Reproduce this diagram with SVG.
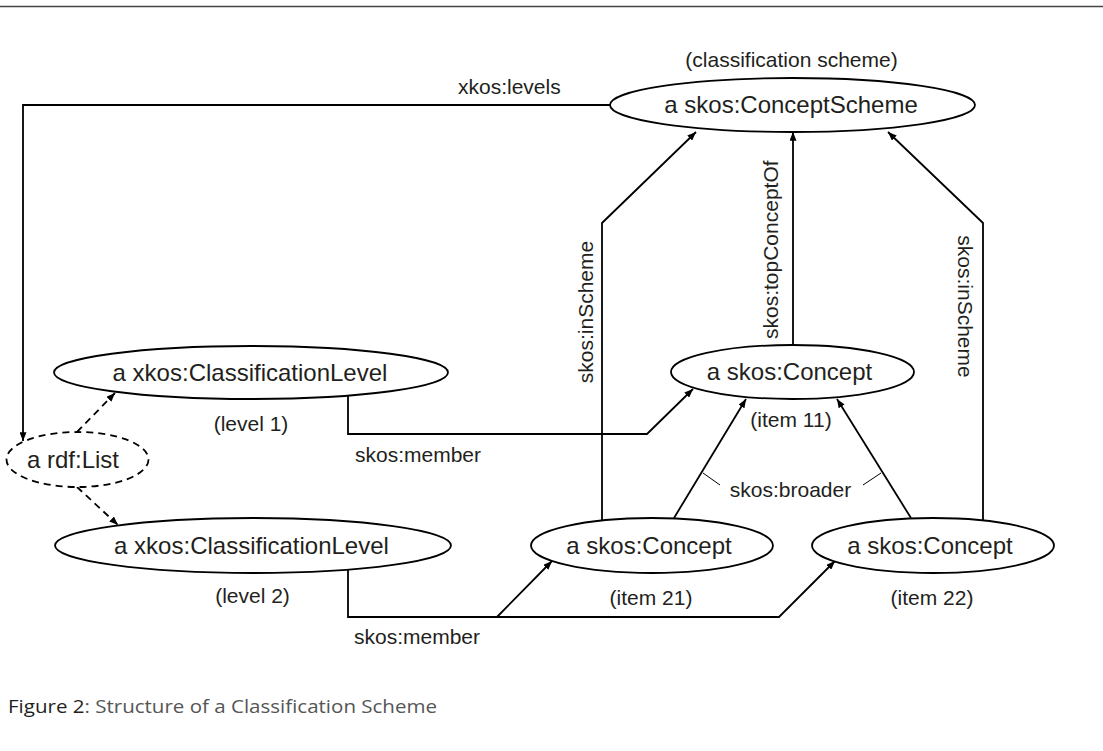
<svg xmlns="http://www.w3.org/2000/svg" width="1103" height="751" viewBox="0 0 1103 751">
<defs>
<style>
.node ellipse{fill:#fff;stroke:#000;stroke-width:1.8}
.dashed ellipse{stroke-dasharray:7,5}
.nt{font-family:"Liberation Sans",Arial,sans-serif;font-size:24px;fill:#231f20;text-anchor:middle}
.lb{font-family:"Liberation Sans",Arial,sans-serif;font-size:21px;fill:#231f20}
.c{fill:none;stroke:#000;stroke-width:1.8}
.d{stroke-dasharray:7,5}
.tick{fill:none;stroke:#000;stroke-width:1}
</style>
<marker id="ah" viewBox="0 0 10 8" refX="10" refY="4" markerWidth="9" markerHeight="7" markerUnits="userSpaceOnUse" orient="auto">
<path d="M0,0 L10,4 L0,8 Z" fill="#000"/>
</marker>
</defs>
<rect width="1103" height="751" fill="#fff"/>
<line x1="0" y1="6.5" x2="1103" y2="6.5" stroke="#444" stroke-width="1.6"/>

<g id="connectors">
<path class="c" d="M610,105 H23 V441" marker-end="url(#ah)"/>
<path class="c" d="M602,520 V223 L696,132" marker-end="url(#ah)"/>
<path class="c" d="M793,345 V132" marker-end="url(#ah)"/>
<path class="c" d="M983,520 V223 L888,132" marker-end="url(#ah)"/>
<path class="c" d="M348,396 V434 H647 L693,389" marker-end="url(#ah)"/>
<path class="c" d="M348,570 V617 H497 L552,561" marker-end="url(#ah)"/>
<path class="c" d="M497,617 H779 L835,561" marker-end="url(#ah)"/>
<path class="c" d="M674,518 L746,399" marker-end="url(#ah)"/>
<path class="c" d="M911,518 L837,399" marker-end="url(#ah)"/>
<path class="c d" d="M77,432 L115,393" marker-end="url(#ah)"/>
<path class="c d" d="M77,487 L118,525" marker-end="url(#ah)"/>
<path class="tick" d="M703,473 L720,485 M863,485 L881,473"/>
<text class="lb" x="458" y="94">xkos:levels</text>
<text class="lb" transform="translate(593,312) rotate(-90)" text-anchor="middle">skos:inScheme</text>
<text class="lb" transform="translate(778,339) rotate(-90)">skos:topConceptOf</text>
<text class="lb" transform="translate(958,306.5) rotate(90)" text-anchor="middle">skos:inScheme</text>
<text class="lb" x="355" y="462">skos:member</text>
<text class="lb" x="354" y="644">skos:member</text>
<text class="lb" x="790.5" y="497" text-anchor="middle">skos:broader</text>
</g>

<g id="conceptScheme" class="node">
<ellipse cx="792.5" cy="105" rx="182.5" ry="27"/>
<text class="nt" x="791" y="113">a skos:ConceptScheme</text>
<text class="lb" x="791.5" y="67" text-anchor="middle">(classification scheme)</text>
</g>

<g id="level1" class="node">
<ellipse cx="251" cy="372.5" rx="197" ry="26.5"/>
<text class="nt" x="250" y="381">a xkos:ClassificationLevel</text>
<text class="lb" x="251" y="431" text-anchor="middle">(level 1)</text>
</g>

<g id="rdfList" class="node dashed">
<ellipse cx="77.5" cy="459.5" rx="71" ry="27.5"/>
<text class="nt" x="73" y="468">a rdf:List</text>
</g>

<g id="level2" class="node">
<ellipse cx="253" cy="545.5" rx="198" ry="27.5"/>
<text class="nt" x="251.5" y="554">a xkos:ClassificationLevel</text>
<text class="lb" x="252.5" y="603" text-anchor="middle">(level 2)</text>
</g>

<g id="item11" class="node">
<ellipse cx="792.5" cy="372" rx="121.5" ry="27"/>
<text class="nt" x="789.5" y="380">a skos:Concept</text>
<text class="lb" x="791" y="427" text-anchor="middle">(item 11)</text>
</g>

<g id="item21" class="node">
<ellipse cx="652" cy="545.5" rx="121" ry="27.5"/>
<text class="nt" x="649" y="554">a skos:Concept</text>
<text class="lb" x="651" y="605" text-anchor="middle">(item 21)</text>
</g>

<g id="item22" class="node">
<ellipse cx="933" cy="545.5" rx="121" ry="27.5"/>
<text class="nt" x="930" y="554">a skos:Concept</text>
<text class="lb" x="932" y="605" text-anchor="middle">(item 22)</text>
</g>

<text x="8" y="713" font-family="'Open Sans','Noto Sans',sans-serif" font-size="19" textLength="429" lengthAdjust="spacingAndGlyphs"><tspan fill="#231f20">Figure 2</tspan><tspan fill="#555">: Structure of a Classification Scheme</tspan></text>
</svg>
